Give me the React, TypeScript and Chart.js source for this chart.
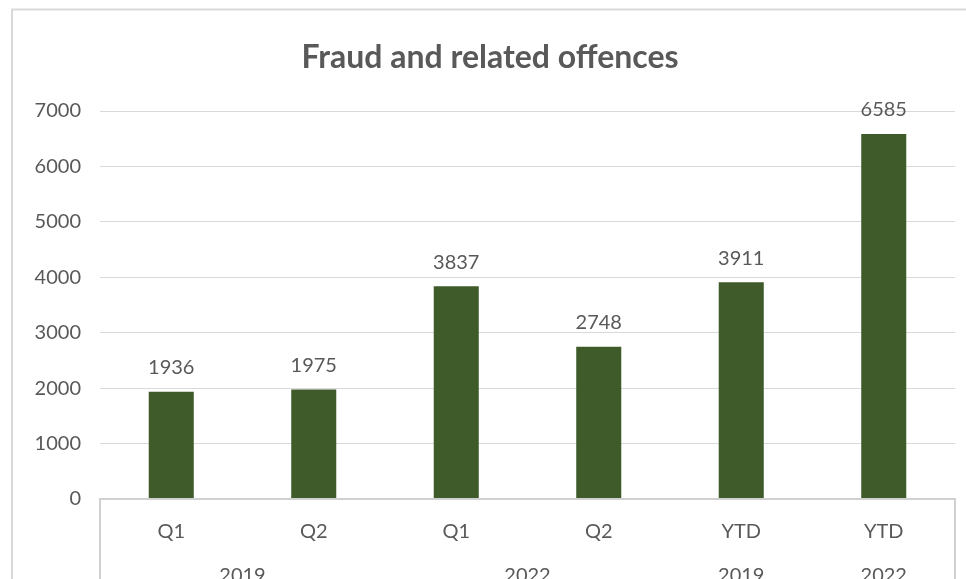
import React, { useEffect, useRef } from "react";
import { Chart, registerables } from "chart.js";

Chart.register(...registerables);

const title = "Fraud and related offences";
const categories = ["Q1", "Q2", "Q1", "Q2", "YTD", "YTD"];
const values = [1936, 1975, 3837, 2748, 3911, 6585];
const groupLabels = ["2019", "2022", "2019", "2022"];
const groupSpans = [2, 2, 1, 1];
const yTicks = [0, 1000, 2000, 3000, 4000, 5000, 6000, 7000];

const TEXT = "#595959";
const GRID = "#d9d9d9";
const BAR = "#3e5b29";
const FONT = "Lato";

const decorPlugin = {
  id: "decor",
  beforeDraw(chart: any) {
    const ctx = chart.ctx;
    ctx.save();
    ctx.strokeStyle = GRID;
    ctx.lineWidth = 2;
    ctx.strokeRect(12, 9.5, 1200, 1200);
    ctx.restore();
  },
  afterDraw(chart: any) {
    const ctx = chart.ctx;
    const area = chart.chartArea;
    const xs = chart.scales.x;
    ctx.save();
    // category box
    ctx.strokeStyle = "#d0d0d0";
    ctx.lineWidth = 2;
    ctx.beginPath();
    ctx.moveTo(area.left, chart.height + 10);
    ctx.lineTo(area.left, area.bottom);
    ctx.lineTo(area.right, area.bottom);
    ctx.lineTo(area.right, chart.height + 10);
    ctx.stroke();
    // data labels
    ctx.fillStyle = TEXT;
    ctx.font = `20px ${FONT}`;
    ctx.textAlign = "center";
    ctx.textBaseline = "middle";
    const meta = chart.getDatasetMeta(0);
    meta.data.forEach((bar: any, i: number) => {
      ctx.fillText(String(values[i]), bar.x, bar.y - 24);
    });
    // group labels
    let start = 0;
    groupLabels.forEach((g, gi) => {
      const end = start + groupSpans[gi] - 1;
      const cx = (xs.getPixelForValue(start) + xs.getPixelForValue(end)) / 2;
      ctx.fillText(g, cx, 576);
      start = end + 1;
    });
    ctx.restore();
  },
};

export default function App() {
  const ref = useRef<HTMLCanvasElement>(null);
  useEffect(() => {
    if (!ref.current) return;
    Chart.defaults.font.family = FONT;
    const chart = new Chart(ref.current, {
      type: "bar",
      data: {
        labels: categories,
        datasets: [
          {
            data: values,
            backgroundColor: BAR,
            barPercentage: 0.316,
            categoryPercentage: 1,
            yAxisID: "y",
          },
        ],
      },
      options: {
        animation: false,
        responsive: false,
        devicePixelRatio: 1,
        layout: { padding: { left: 14, right: 0, top: 0, bottom: 0 } },
        plugins: {
          legend: { display: false },
          tooltip: { enabled: false },
          title: {
            display: true,
            text: title,
            color: TEXT,
            font: { family: FONT, size: 32, weight: "bold", lineHeight: 1.2 },
            padding: { top: 38, bottom: 34.6 },
          },
        },
        scales: {
          x: {
            grid: { display: false },
            border: { display: false },
            ticks: {
              color: TEXT,
              font: { family: FONT, size: 20 },
              padding: 13,
              maxRotation: 0,
            },
            afterFit: (s: any) => {
              s.height = 80;
            },
          },
          y: {
            position: "left",
            min: 0,
            max: 7000,
            afterBuildTicks: (s: any) => {
              s.ticks = yTicks.map((v) => ({ value: v }));
            },
            grid: { color: GRID, lineWidth: 1, drawTicks: false },
            border: { display: false },
            ticks: {
              color: TEXT,
              font: { family: FONT, size: 20 },
              padding: 19,
              callback: (v: any) => String(v),
            },
            afterFit: (s: any) => {
              s.width = 86;
            },
          },
          yRight: {
            position: "right",
            display: true,
            min: 0,
            max: 7000,
            grid: { display: false, drawTicks: false },
            border: { display: false },
            ticks: { display: false },
            afterFit: (s: any) => {
              s.width = 11;
            },
          },
        },
      },
      plugins: [decorPlugin],
    });
    return () => chart.destroy();
  }, []);
  return (
    <div style={{ position: "fixed", left: 0, top: 0, width: 966, height: 579, background: "#fff", overflow: "hidden" }}>
      <canvas ref={ref} width={966} height={579} style={{ width: 966, height: 579 }} />
    </div>
  );
}
